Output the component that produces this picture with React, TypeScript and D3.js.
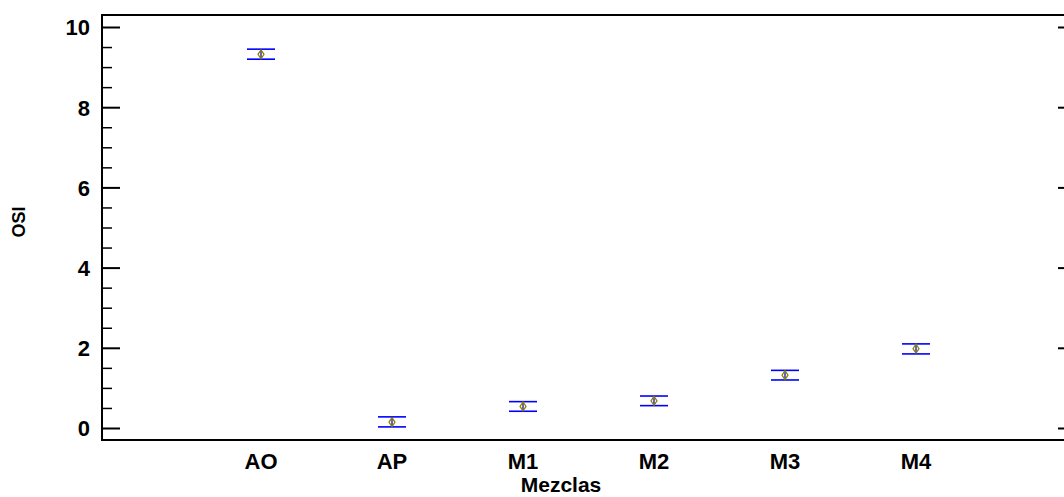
import React from "react";
import * as d3 from "d3";

const categories = ["AO", "AP", "M1", "M2", "M3", "M4"];
const means = [9.33, 0.16, 0.55, 0.69, 1.33, 1.99];
const lower = [9.21, 0.04, 0.43, 0.57, 1.21, 1.86];
const upper = [9.46, 0.29, 0.67, 0.81, 1.45, 2.11];
const majorTicks = [0, 2, 4, 6, 8, 10];
const xTitle = "Mezclas";
const yTitle = "OSI";

const W = 1064;
const H = 497;
const left = 102;
const right = 1076;
const top = 15;
const bottom = 440;

export default function App() {
  const y = d3.scaleLinear().domain([0, 10]).range([428.5, 27.5]);
  const x = d3.scaleLinear().domain([0, 5]).range([261, 916]);
  const minorTicks = d3.range(0, 10.01, 0.5).filter((v) => !majorTicks.includes(v));
  const font = "'Liberation Sans', Arial, sans-serif";
  const capHalf = 14;

  return (
    <svg
      width={W}
      height={H}
      style={{ position: "absolute", left: 0, top: 0, background: "#fff" }}
      fontFamily={font}
    >
      <rect x={0} y={0} width={W} height={H} fill="#fff" />
      <rect x={left} y={top} width={right - left} height={bottom - top} fill="none" stroke="#000" strokeWidth={2} />
      {majorTicks.map((v) => (
        <g key={"mj" + v}>
          <line x1={left} x2={left + 18} y1={y(v)} y2={y(v)} stroke="#000" strokeWidth={2} />
          <line x1={right - 18} x2={right} y1={y(v)} y2={y(v)} stroke="#000" strokeWidth={2} />
          <text
            x={left - 12}
            y={y(v)}
            dy="0.36em"
            textAnchor="end"
            fontSize={22}
            fontWeight="bold"
            fill="#000"
          >
            {v}
          </text>
        </g>
      ))}
      {minorTicks.map((v) => (
        <line key={"mn" + v} x1={left} x2={left + 10} y1={y(v)} y2={y(v)} stroke="#000" strokeWidth={1.5} />
      ))}
      {categories.map((c, i) => (
        <text
          key={c}
          x={x(i)}
          y={469}
          textAnchor="middle"
          fontSize={22}
          fontWeight="bold"
          fill="#000"
        >
          {c}
        </text>
      ))}
      <text x={561} y={492} textAnchor="middle" fontSize={21} fontWeight="bold" fill="#000">
        {xTitle}
      </text>
      <text
        transform={`translate(25,222) rotate(-90)`}
        textAnchor="middle"
        fontSize={18}
        fontWeight="bold"
        fill="#000"
      >
        {yTitle}
      </text>
      {categories.map((c, i) => {
        const cx = x(i);
        const cy = y(means[i]);
        return (
          <g key={"e" + c}>
            <line x1={cx} x2={cx} y1={y(upper[i])} y2={y(lower[i])} stroke="#00008b" strokeWidth={1.2} />
            <line x1={cx - capHalf} x2={cx + capHalf} y1={y(upper[i])} y2={y(upper[i])} stroke="#0000ff" strokeWidth={1.6} />
            <line x1={cx - capHalf} x2={cx + capHalf} y1={y(lower[i])} y2={y(lower[i])} stroke="#0000ff" strokeWidth={1.6} />
            <path
              d={`M${cx},${cy - 4.5}L${cx + 3},${cy}L${cx},${cy + 4.5}L${cx - 3},${cy}Z`}
              fill="none"
              stroke="#8b8000"
              strokeWidth={1.2}
            />
          </g>
        );
      })}
    </svg>
  );
}
